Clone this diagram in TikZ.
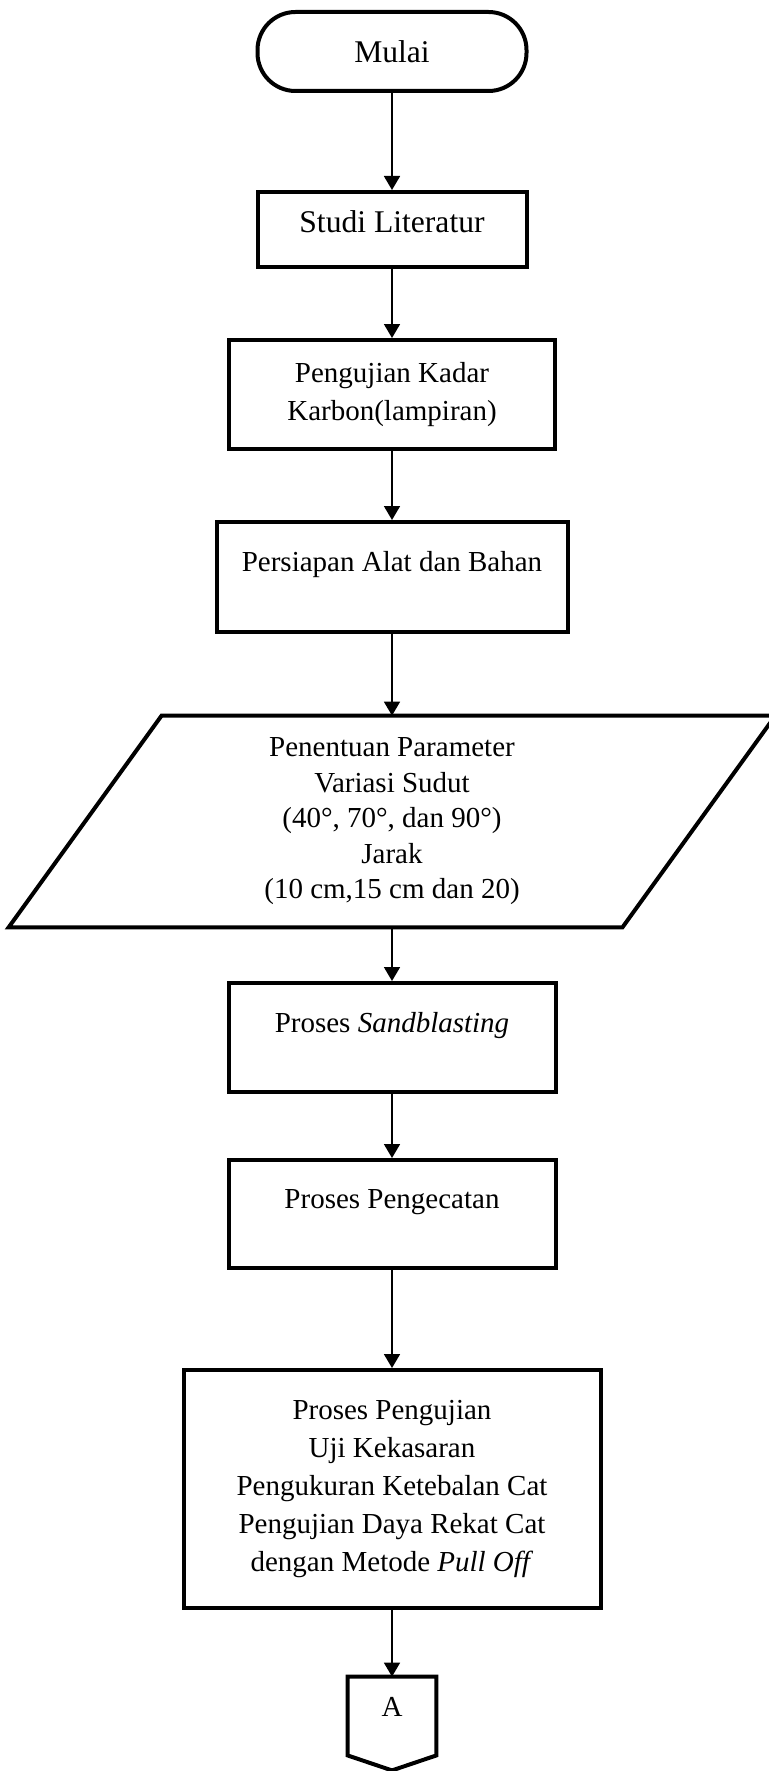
\documentclass[tikz,border=0pt]{standalone}
\usepackage{fontspec}
\setmainfont{Liberation Serif}
\usetikzlibrary{positioning,arrows.meta,calc}
\tikzset{
  terminal/.style={draw=black, line width=2pt, rounded corners=19pt,
    minimum width=134.5pt, minimum height=39.5pt, inner sep=0pt,
    font=\fontsize{15.8pt}{19pt}\selectfont},
  process/.style={draw=black, line width=2pt, minimum width=163pt,
    minimum height=54.5pt, inner sep=0pt, align=center},
  toptext/.style={text height=10pt, text depth=15.5pt},
  data/.style={minimum width=306.5pt, minimum height=105.5pt, inner sep=0pt, align=center,
    font=\fontsize{14.5pt}{17.75pt}\selectfont},
  offpage/.style={minimum width=44pt, minimum height=39pt, inner sep=0pt,
    text height=10pt, text depth=10pt},
  border/.style={line width=2pt},
  flow/.style={line width=0.9pt, -{Triangle[width=8pt,length=7pt]}}
}

\begin{document}
\begin{tikzpicture}[node distance=34.5pt, font=\fontsize{14.5pt}{19.25pt}\selectfont]
    \useasboundingbox (0,0) rectangle (384.5pt,-885.5pt);

    \node[terminal] (mulai) at (196pt,-25.75pt) {Mulai};
    \node[process, minimum width=134.5pt, minimum height=37.5pt, text height=10.5pt, text depth=7pt,
      font=\fontsize{15.8pt}{19pt}\selectfont, below=48.5pt of mulai] (studi) {Studi Literatur};
    \node[process, below=of studi] (kadar) {Pengujian Kadar\\Karbon(lampiran)};
    \node[process, toptext, minimum width=175.5pt, minimum height=55pt,
      below=of kadar] (alat) {Persiapan Alat dan Bahan};

    \node[data, below=40.8pt of alat] (param) {Penentuan Parameter\\Variasi Sudut\\(40°, 70°, dan 90°)\\Jarak\\(10 cm,15 cm dan 20)};
    \draw[border] ($(param.north west)+(38.25pt,0)$) -- ($(param.north east)+(38.25pt,0)$)
      -- ($(param.south east)+(-38.25pt,0)$) -- ($(param.south west)+(-38.25pt,0)$) -- cycle;

    \node[process, toptext, minimum width=163.5pt, below=26.8pt of param] (sand) {Proses \textit{Sandblasting}};
    \node[process, toptext, minimum width=163.5pt, minimum height=54pt,
      below=32pt of sand] (cat) {Proses Pengecatan};
    \node[process, minimum width=208.5pt, minimum height=119pt, font=\fontsize{14.5pt}{19.1pt}\selectfont,
      below=49pt of cat] (uji) {Proses Pengujian\\Uji Kekasaran\\Pengukuran Ketebalan Cat\\Pengujian Daya Rekat Cat\\dengan Metode \textit{Pull Off}};

    \node[offpage, below=33.3pt of uji] (conA) {A};
    \draw[border] (conA.north west) -- (conA.north east) -- (conA.south east)
      -- ($(conA.south)+(0,-7.5pt)$) -- (conA.south west) -- cycle;

    \draw[flow] (mulai) -- (studi);
    \draw[flow] (studi) -- (kadar);
    \draw[flow] (kadar) -- (alat);
    \draw[flow] (alat) -- (param);
    \draw[flow] (param) -- (sand);
    \draw[flow] (sand) -- (cat);
    \draw[flow] (cat) -- (uji);
    \draw[flow] (uji) -- (conA);
\end{tikzpicture}
\end{document}
